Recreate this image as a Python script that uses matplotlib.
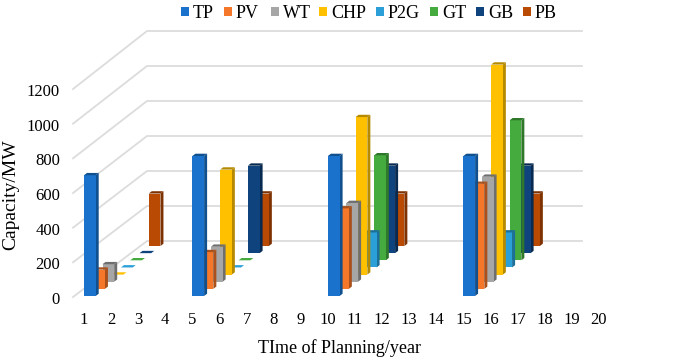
import numpy as np
import matplotlib
matplotlib.use("Agg")
import matplotlib.pyplot as plt
from matplotlib.patches import Polygon, Rectangle

plt.rcParams["font.family"] = ["Liberation Serif", "DejaVu Serif"]

SERIES = ["TP", "PV", "WT", "CHP", "P2G", "GT", "GB", "PB"]
FACE = ["#1a72cc", "#f5772a", "#a6a6a6", "#ffc000", "#2a9fd8", "#46ab3f", "#0e437e", "#b84a04"]
SIDE = ["#11508f", "#a9501b", "#6e6e6e", "#b58a00", "#1b6f98", "#2f772a", "#082a50", "#7e3202"]
LEGEND_X = [181, 224, 271, 319, 376, 430, 476, 523]

YEARS = [1, 5, 10, 15]
VALUES = {
    "TP":  [690, 800, 800, 800],
    "PV":  [110, 210, 460, 600],
    "WT":  [100, 200, 450, 600],
    "CHP": [0, 600, 900, 1200],
    "P2G": [0, 0, 200, 200],
    "GT":  [0, 0, 600, 800],
    "GB":  [0, 500, 500, 500],
    "PB":  [300, 300, 300, 300],
}
Y_TICKS = [0, 200, 400, 600, 800, 1000, 1200]
X_TICKS = list(range(1, 21))

# oblique projection, in output pixels
X0, Y0 = 84.0, 296.0
YEAR_DX = 27.1
DEPTH_DX, DEPTH_DY = 9.25, 7.14
PX_PER_MW = 0.175
BAR_W = 11.7
SIDE_DX, SIDE_DY = 3.0, 2.3


def project(year, depth, value):
    x = X0 + (year - 1) * YEAR_DX + depth * DEPTH_DX
    y = Y0 - depth * DEPTH_DY - value * PX_PER_MW
    return x, y


def draw_bar(ax, year, depth, value, face, side):
    x, y = project(year, depth, 0)
    top = y - value * PX_PER_MW
    if value > 0:
        ax.add_patch(Polygon([(x + BAR_W, y), (x + BAR_W + SIDE_DX, y - SIDE_DY),
                              (x + BAR_W + SIDE_DX, top - SIDE_DY), (x + BAR_W, top)],
                             fc=side, ec="none", zorder=3))
        ax.add_patch(Rectangle((x, top), BAR_W, value * PX_PER_MW, fc=face, ec="none", zorder=3))
    ax.add_patch(Polygon([(x, top), (x + BAR_W, top), (x + BAR_W + SIDE_DX, top - SIDE_DY),
                          (x + SIDE_DX, top - SIDE_DY)], fc=side if value > 0 else face,
                         ec="none", zorder=3))


fig = plt.figure(figsize=(6.92, 3.61), dpi=100)
ax = fig.add_axes([0, 0, 1, 1])
ax.set_xlim(0, 692)
ax.set_ylim(361, 0)
ax.axis("off")

# walls
for v in Y_TICKS:
    back_y = 241 - v * PX_PER_MW
    front_y = 297 - v * 0.1733
    ax.plot([73, 147, 582], [front_y, back_y, back_y], color="#dcdcdc", lw=1.3, zorder=1)
    ax.text(60, 298 - v * 0.1733, str(v), ha="right", va="center_baseline", fontsize=12)

for t in X_TICKS:
    ax.text(X0 + (t - 1) * YEAR_DX, 318, str(t), ha="center", va="center_baseline", fontsize=12)

# back series first so the front ones overlap them
for depth in range(len(SERIES) - 1, -1, -1):
    name = SERIES[depth]
    for year, value in zip(YEARS, VALUES[name]):
        draw_bar(ax, year, depth, value, FACE[depth], SIDE[depth])

# legend
for name, colour, lx in zip(SERIES, FACE, LEGEND_X):
    ax.add_patch(Rectangle((lx, 7), 8, 8.5, fc=colour, ec="none"))
    ax.text(lx + 12, 11.5, name, ha="left", va="center_baseline", fontsize=13)

ax.text(11, 195, "Capacity/MW", rotation=90, ha="center", va="center", fontsize=14)
ax.text(339, 348, "TIme of Planning/year", ha="center", va="center", fontsize=13)

fig.savefig("out.png", dpi=100)
